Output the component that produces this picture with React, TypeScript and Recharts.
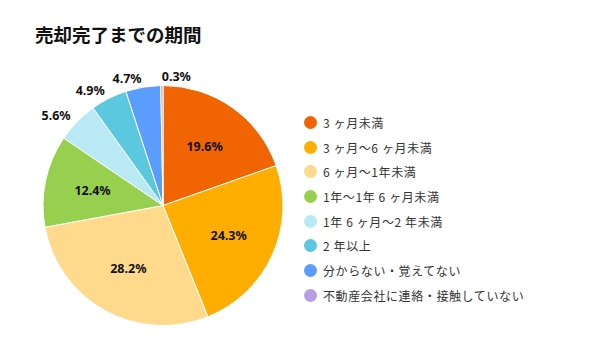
import { PieChart, Pie, Cell, Legend } from 'recharts'

const categories = [
  '3 ヶ月未満',
  '3 ヶ月〜6 ヶ月未満',
  '6 ヶ月〜1年未満',
  '1年〜1年 6 ヶ月未満',
  '1年 6 ヶ月〜2 年未満',
  '2 年以上',
  '分からない・覚えてない',
  '不動産会社に連絡・接触していない',
]
const shares = [19.6, 24.3, 28.2, 12.4, 5.6, 4.9, 4.7, 0.3]
const colors = ['#F06403', '#FFAD00', '#FFD98C', '#97D04F', '#B9E9F4', '#5CC8E0', '#5B9DFC', '#B99CE6']

const data = categories.map((name, i) => ({ name, value: shares[i] }))

const RADIAN = Math.PI / 180
const labelFont = '"Noto Sans", "Noto Sans CJK JP", sans-serif'

function renderLabel(props: any) {
  const { cx, cy, midAngle, outerRadius, value } = props
  const cos = Math.cos(-midAngle * RADIAN)
  const sin = Math.sin(-midAngle * RADIAN)
  const text = `${value.toFixed(1)}%`
  if (value >= 10) {
    const r = outerRadius * 0.6
    return (
      <text x={cx + r * cos} y={cy + r * sin} fill="#111" fontSize={12.5} fontWeight={700}
        fontFamily={labelFont} textAnchor="middle" dominantBaseline="central">
        {text}
      </text>
    )
  }
  const r = outerRadius + 9
  return (
    <text x={cx + r * cos} y={cy + r * sin} fill="#111" fontSize={12.5} fontWeight={700}
      fontFamily={labelFont} textAnchor={cos < -0.05 ? 'end' : 'start'} dominantBaseline="central">
      {text}
    </text>
  )
}

function LegendList() {
  return (
    <div style={{ fontFamily: '"Noto Sans CJK JP", sans-serif' }}>
      {categories.map((c, i) => (
        <div key={c} style={{ display: 'flex', alignItems: 'center', height: 24.7 }}>
          <span style={{ width: 13, height: 13, borderRadius: '50%', background: colors[i], display: 'inline-block', marginRight: 6 }} />
          <span style={{ fontSize: 12, color: '#333', letterSpacing: 0.6, whiteSpace: 'pre' }}>{c}</span>
        </div>
      ))}
    </div>
  )
}

export default function App() {
  return (
    <div style={{ position: 'absolute', left: 0, top: 0, width: 603, height: 358, background: '#fff' }}>
      <div style={{ position: 'absolute', left: 35, top: 21, fontSize: 18.5, fontWeight: 700, color: '#111',
        fontFamily: '"Noto Sans CJK JP", sans-serif', whiteSpace: 'nowrap' }}>
        売却完了までの期間
      </div>
      <PieChart width={603} height={358} margin={{ top: 0, right: 0, bottom: 0, left: 0 }}>
        <Pie
          data={data}
          dataKey="value"
          nameKey="name"
          cx={163}
          cy={205.5}
          outerRadius={120}
          startAngle={90}
          endAngle={-270}
          stroke="#fff"
          strokeWidth={1}
          label={renderLabel}
          labelLine={false}
          isAnimationActive={false}
        >
          {data.map((d, i) => (
            <Cell key={d.name} fill={colors[i]} />
          ))}
        </Pie>
        <Legend
          content={() => <LegendList />}
          wrapperStyle={{ position: 'absolute', left: 304, top: 110, width: 290 }}
        />
      </PieChart>
    </div>
  )
}
